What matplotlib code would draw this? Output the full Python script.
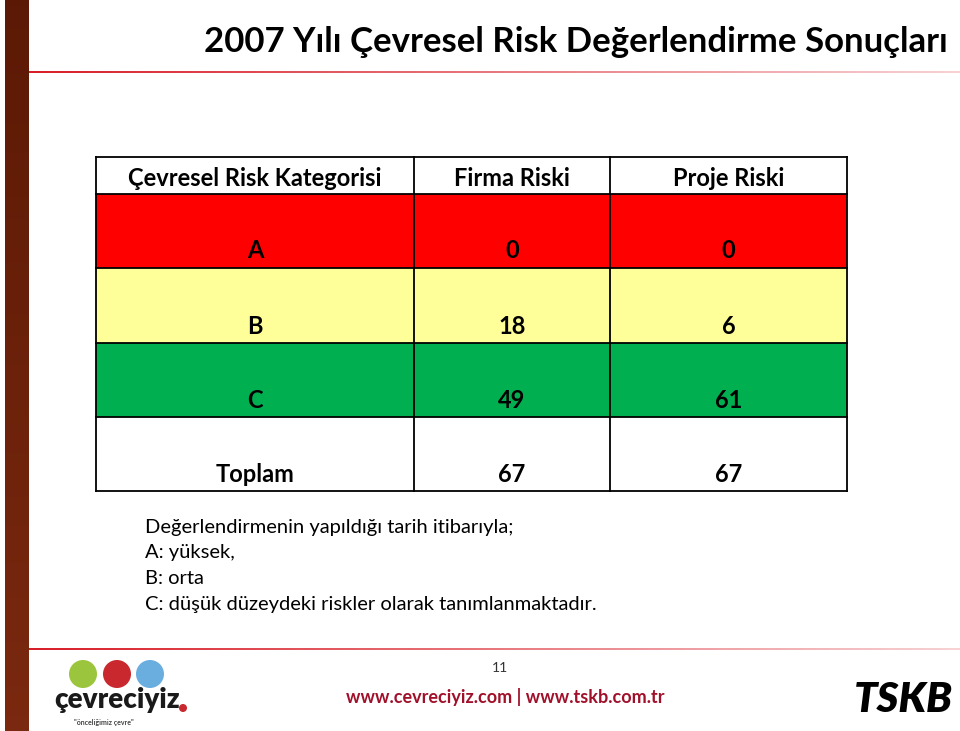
import matplotlib.pyplot as plt
import matplotlib.patches as mpatches
import numpy as np

## Table data ##
headers = ["Çevresel Risk Kategorisi", "Firma Riski", "Proje Riski"]
categories = ["A", "B", "C", "Toplam"]
firma_riski = [0, 18, 49, 67]
proje_riski = [0, 6, 61, 67]
row_colors = ["#FF0000", "#FFFF99", "#00B050", "white"]

title = "2007 Yılı Çevresel Risk Değerlendirme Sonuçları"
notes = ["Değerlendirmenin yapıldığı tarih itibarıyla;",
         "A: yüksek,",
         "B: orta",
         "C: düşük düzeydeki riskler olarak tanımlanmaktadır."]

plt.rcParams['font.family'] = ['Lato', 'DejaVu Sans']

W, H = 960, 731
fig = plt.figure(figsize=(W / 100, H / 100), dpi=100)
# whole figure as one axes in pixel coords
ax = fig.add_axes((0, 0, 1, 1))
ax.set_xlim(0, W)
ax.set_ylim(H, 0)
ax.axis('off')

# left brown bar, darker at top
grad = np.linspace(0, 1, 100).reshape(-1, 1)
top = np.array([0.36, 0.10, 0.02])
bot = np.array([0.48, 0.16, 0.06])
bar = top + grad[..., None] * (bot - top)
ax.imshow(bar, extent=(5, 29, H, 0), aspect='auto', zorder=1)

# fading red rules, drawn as a thin gradient image
def fade_line(y, x0, x1):
    t = np.linspace(0, 1, 200).reshape(1, -1)
    red = np.array([0.85, 0.12, 0.16])
    img = red + t[..., None] * 0.8 * (1 - red)
    ax.imshow(img, extent=(x0, x1, y + 1, y - 1), aspect='auto', zorder=1)

fade_line(72, 29, W)
fade_line(649, 29, W)

# title
ax.text(948, 42, title, ha='right', va='center', fontsize=25,
        fontweight='bold', color='black')

## Table ##
col_x = [96, 414, 610, 847]
row_y = [157, 194, 268, 343, 417, 491]

# header row
for j, h in enumerate(headers):
    cx = (col_x[j] + col_x[j + 1]) / 2
    ax.text(cx, 178, h, ha='center', va='center', fontsize=17,
            fontweight='bold')

for i, cat in enumerate(categories):
    y0, y1 = row_y[i + 1], row_y[i + 2]
    ax.add_patch(mpatches.Rectangle((col_x[0], y0), col_x[-1] - col_x[0],
                                    y1 - y0, color=row_colors[i], lw=0))
    vals = [cat, firma_riski[i], proje_riski[i]]
    for j, v in enumerate(vals):
        cx = (col_x[j] + col_x[j + 1]) / 2
        ax.text(cx, y1 - 17, str(v), ha='center', va='center', fontsize=17,
                fontweight='bold')

# grid lines
for x in col_x:
    ax.plot([x, x], [row_y[0], row_y[-1]], color='black', lw=1.3)
for y in row_y:
    ax.plot([col_x[0], col_x[-1]], [y, y], color='black', lw=1.3)

# notes
for k, line in enumerate(notes):
    ax.text(145, 527 + k * 25.7, line, ha='left', va='center', fontsize=14.5)

# footer
ax.text(500, 668, "11", ha='center', va='center', fontsize=10, color='#333333')
ax.text(505, 697, "www.cevreciyiz.com | www.tskb.com.tr", ha='center',
        va='center', fontsize=13, fontweight='bold', color='#a0102a')

# cevreciyiz logo
for cx, c in zip([83, 117, 150], ['#9bc53d', '#c8282e', '#6aaee0']):
    ax.add_patch(mpatches.Circle((cx, 674), 14, color=c, lw=0))
ax.text(54, 700, "çevreciyiz", ha='left', va='center', fontsize=20,
        fontweight='heavy', color='#1a1a1a')
ax.add_patch(mpatches.Circle((183, 708), 4, color='#c8282e', lw=0))
ax.text(104, 723, "\"önceliğimiz çevre\"", ha='center', va='center',
        fontsize=5, fontweight='bold', color='#444444')

# TSKB logo
ax.text(903, 700, "TSKB", ha='center', va='center', fontsize=30,
        fontweight='heavy', fontstyle='italic', color='black')

fig.savefig("out.png", dpi=100)
